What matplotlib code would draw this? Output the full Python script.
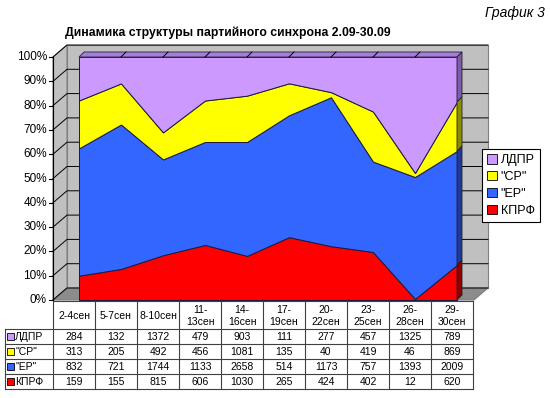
import numpy as np
import matplotlib.pyplot as plt
import matplotlib.patches as mpatches

plt.rcParams['font.family'] = ['Liberation Sans', 'DejaVu Sans']

periods = ['2-4сен', '5-7сен', '8-10сен', '11-\n13сен', '14-\n16сен',
           '17-\n19сен', '20-\n22сен', '23-\n25сен', '26-\n28сен', '29-\n30сен']
ldpr = [284, 132, 1372, 479, 903, 111, 277, 457, 1325, 789]
sr = [313, 205, 492, 456, 1081, 135, 40, 419, 46, 869]
er = [832, 721, 1744, 1133, 2658, 514, 1173, 757, 1393, 2009]
kprf = [159, 155, 815, 606, 1030, 265, 424, 402, 12, 620]

names = ['ЛДПР', '"СР"', '"ЕР"', 'КПРФ']
colors = ['#CC99FF', '#FFFF00', '#3366FF', '#FF0000']
dark = ['#7E5CA8', '#8C8C00', '#1C3A99', '#8C0000']
yticks = list(range(0, 101, 10))

W, H = 550, 398
fig = plt.figure(figsize=(W / 100, H / 100), dpi=100)

# pseudo-3D walls, in pixel coords
bg = fig.add_axes([0, 0, 1, 1])
bg.set_xlim(0, W)
bg.set_ylim(H, 0)
bg.axis('off')
x0, y0, ph = 53, 300, 243   # front axis x, 0% y, px per 100%
ddx, ddy, xr = 14, 12, 474  # wall depth, right end of floor front
bg.add_patch(mpatches.Rectangle((x0 + ddx, y0 - ph - ddy), xr - x0, ph,
                                fc='#C0C0C0', ec='#808080', lw=0.8))
bg.add_patch(mpatches.Polygon([(x0, y0 - ph), (x0 + ddx, y0 - ph - ddy),
                               (x0 + ddx, y0 - ddy), (x0, y0)],
                              fc='#C0C0C0', ec='#808080', lw=0.8))
bg.add_patch(mpatches.Polygon([(x0, y0), (x0 + ddx, y0 - ddy),
                               (xr + ddx, y0 - ddy), (xr, y0)],
                              fc='#8C8C8C', ec='#808080', lw=0.8))
for t in yticks:
    yf = y0 - t * ph / 100
    bg.plot([x0, x0 + ddx, xr + ddx], [yf, yf - ddy, yf - ddy], color='k', lw=0.7)
    bg.plot([x0 - 4, x0], [yf, yf], color='k', lw=0.8)
    bg.text(x0 - 6, yf, f'{t}%', ha='right', va='center', fontsize=8.5)
bg.plot([x0, x0], [y0 - ph, y0], color='k', lw=0.8)

# data table drawn by hand
tx0, tl, tw = 5, x0, 42
ty0, th, rh = y0 + 1, 28, 15
ncol = len(periods)
right = tl + tw * ncol
bottom = ty0 + th + rh * len(names)
lc = '#404040'
bg.plot([tl, right], [ty0, ty0], color=lc, lw=0.8)
for i in range(len(names) + 1):
    yy = ty0 + th + rh * i
    bg.plot([tx0, right], [yy, yy], color=lc, lw=0.8)
bg.plot([tx0, tx0], [ty0 + th, bottom], color=lc, lw=0.8)
for j in range(ncol + 1):
    xx = tl + tw * j
    bg.plot([xx, xx], [ty0, bottom], color=lc, lw=0.8)
for j, p in enumerate(periods):
    bg.text(tl + tw * (j + 0.5), ty0 + th / 2 + 1, p, ha='center', va='center',
            fontsize=7.5, linespacing=1.15)
rows = [ldpr, sr, er, kprf]
for i, (n, vals, c) in enumerate(zip(names, rows, colors)):
    yc = ty0 + th + rh * (i + 0.5)
    bg.add_patch(mpatches.Rectangle((tx0 + 2, yc - 3.5), 7, 7, fc=c, ec='k', lw=0.6))
    bg.text(tx0 + 10, yc + 0.5, n, ha='left', va='center', fontsize=7.5)
    for j, v in enumerate(vals):
        bg.text(tl + tw * (j + 0.5), yc + 0.5, str(v), ha='center', va='center',
                fontsize=7.5)

# stacked 100% area
tot = np.array(ldpr) + np.array(sr) + np.array(er) + np.array(kprf)
stack = [np.array(s) / tot * 100 for s in (kprf, er, sr, ldpr)]
xs = np.arange(len(periods))

ax = fig.add_axes([79 / W, (H - y0) / H, 378 / W, ph / H])
ax.set_xlim(0, len(periods) - 1)
ax.set_ylim(0, 100)
ax.axis('off')
ax.stackplot(xs, stack, colors=colors[::-1], edgecolor='#1a1a40', linewidth=0.7)

# depth of the series slab
dx = (len(periods) - 1) * 5 / 378
dy = 100 * 5 / ph
last = xs[-1]
ax.fill([0, last, last + dx, dx], [100, 100, 100 + dy, 100 + dy],
        fc='#A47FD6', ec='#3c2a5c', lw=0.7, clip_on=False)
for xi in xs[1:-1]:
    ax.plot([xi, xi + dx], [100, 100 + dy], color='k', lw=0.7, clip_on=False)
lo = 0
for s, c in zip(stack, dark[::-1]):
    hi = lo + s[-1]
    ax.fill([last, last, last + dx, last + dx], [lo, hi, hi + dy, lo + dy],
            fc=c, ec='#202020', lw=0.6, clip_on=False)
    lo = hi

fig.text(228 / W, 1 - 33 / H, 'Динамика структуры партийного синхрона 2.09-30.09',
         ha='center', va='center', fontsize=8.8, fontweight='bold')
fig.text(545 / W, 1 - 13 / H, 'График 3', ha='right', va='center',
         fontsize=10, style='italic')

handles = [mpatches.Patch(fc=c, ec='k', lw=0.6) for c in colors]
leg = fig.legend(handles, names, loc='upper left',
                 bbox_to_anchor=(482 / W, 1 - 149 / H), borderaxespad=0,
                 fontsize=9, handlelength=0.8, handleheight=0.8,
                 handletextpad=0.3, borderpad=0.4, labelspacing=0.38,
                 fancybox=False, edgecolor='k', framealpha=1)
leg.get_frame().set_linewidth(0.8)

fig.savefig('out.png', dpi=100)
